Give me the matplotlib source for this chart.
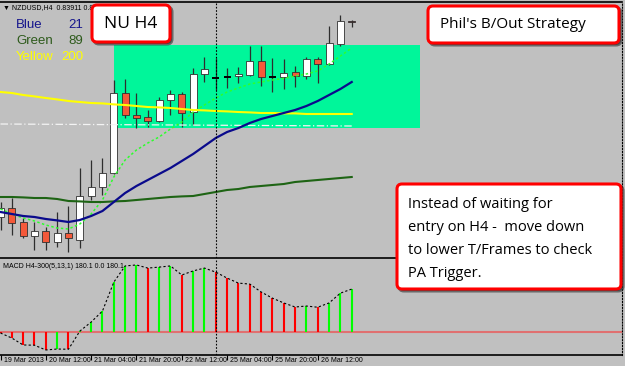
"""
NZDUSD H4 chart with breakout box, moving averages and MACD histogram.
"""

import numpy as np
import matplotlib.pyplot as plt
from matplotlib.patches import Rectangle, FancyBboxPatch
from matplotlib.transforms import ScaledTranslation

# ==============================================================================
# 1. DATA
# ==============================================================================
bar_index = np.arange(32)

opens = [0.8293, 0.82975, 0.82905, 0.82835, 0.8286, 0.82805, 0.8285, 0.82815,
         0.83035, 0.8308, 0.8315, 0.8355, 0.8344, 0.8343, 0.8341, 0.83515,
         0.83545, 0.83455, 0.83645, 0.83625, 0.8363, 0.83635, 0.8364, 0.8371,
         0.8363, 0.8363, 0.83655, 0.83635, 0.8372, 0.83695, 0.83795, 0.83911]
highs = [0.83005, 0.83025, 0.82925, 0.82905, 0.8288, 0.82955, 0.82985, 0.83175,
         0.83215, 0.83225, 0.83615, 0.8362, 0.8355, 0.83465, 0.8353, 0.83565,
         0.83555, 0.83675, 0.8373, 0.83725, 0.83675, 0.8368, 0.83785, 0.83785,
         0.83725, 0.8372, 0.83685, 0.8373, 0.8373, 0.83885, 0.8394, 0.83915]
lows = [0.82865, 0.8284, 0.82825, 0.82765, 0.82765, 0.8278, 0.82755, 0.82775,
        0.83015, 0.8304, 0.83145, 0.83425, 0.83375, 0.8338, 0.83405, 0.8344,
        0.8338, 0.8339, 0.83605, 0.83565, 0.83575, 0.836, 0.83635, 0.83585,
        0.83555, 0.8357, 0.8358, 0.8362, 0.836, 0.8369, 0.83785, 0.8388]
closes = [0.82975, 0.829, 0.82835, 0.8286, 0.82805, 0.8285, 0.82825, 0.83035,
          0.8308, 0.8315, 0.8355, 0.8344, 0.83425, 0.8341, 0.83515, 0.83545,
          0.8345, 0.83645, 0.8367, 0.83625, 0.8363, 0.83645, 0.8371, 0.8363,
          0.8363, 0.8365, 0.83635, 0.8372, 0.83695, 0.838, 0.8391, 0.83905]

ma_blue = [0.82955, 0.82945, 0.82935, 0.8293, 0.8292, 0.82913, 0.82905, 0.82915,
           0.82935, 0.8296, 0.83005, 0.8305, 0.83085, 0.83115, 0.83145, 0.83175,
           0.8321, 0.83245, 0.83285, 0.83325, 0.83355, 0.83375, 0.834, 0.8342,
           0.83435, 0.8345, 0.83465, 0.83485, 0.8351, 0.8354, 0.8357, 0.83605]
ma_green = [0.8303, 0.8303, 0.83028, 0.83025, 0.83025, 0.8302, 0.8301, 0.83008,
            0.83005, 0.83005, 0.83008, 0.8301, 0.83015, 0.8302, 0.83025, 0.8303,
            0.83033, 0.83035, 0.83045, 0.83055, 0.83065, 0.8307, 0.8308, 0.83085,
            0.8309, 0.83095, 0.83105, 0.8311, 0.83115, 0.8312, 0.83125, 0.8313]
ma_yellow = [0.83555, 0.8355, 0.8354, 0.83533, 0.83525, 0.83518, 0.8351, 0.83505,
             0.835, 0.83498, 0.83493, 0.8349, 0.83485, 0.8348, 0.83478, 0.83475,
             0.8347, 0.83465, 0.83463, 0.8346, 0.83458, 0.83455, 0.83453, 0.8345,
             0.8345, 0.83448, 0.83448, 0.83445, 0.83445, 0.83445, 0.83445, 0.83445]
ma_fast = [0.8297, 0.82945, 0.82925, 0.8291, 0.8289, 0.82875, 0.8287, 0.82895,
           0.82945, 0.83015, 0.8313, 0.83215, 0.83265, 0.833, 0.8333, 0.8337,
           0.83405, 0.83455, 0.8349, 0.83525, 0.83555, 0.83575, 0.83595, 0.83605,
           0.83615, 0.83623, 0.83635, 0.83645, 0.8366, 0.83695, 0.83735, 0.83775]
ma_white_index = [0, 31]
ma_white = [0.83395, 0.83385]

macd_values = [-4, -25, -54, -55, -75, -71, -72, 4, 42, 88, 209, 277, 281, 268,
               272, 277, 239, 256, 268, 251, 226, 205, 201, 168, 142, 122, 105,
               109, 104, 122, 163, 180.1]

box_start, box_end = 10, 37
box_low, box_high = 0.83375, 0.8379
separator_index = 19

tick_index = [0, 4, 8, 12, 16, 20, 24, 28]
tick_labels = ['19 Mar 2013', '20 Mar 12:00', '21 Mar 04:00', '21 Mar 20:00',
               '22 Mar 12:00', '25 Mar 04:00', '25 Mar 20:00', '26 Mar 12:00']

legend_names = ['Blue', 'Green', 'Yellow']
legend_periods = ['21', '89', '200']

# ==============================================================================
# 2. STYLE
# ==============================================================================
BG = '#C0C0C0'
BULL = '#FFFFFF'
BEAR = '#F4593A'
LAST = '#8B1A1A'
WICK = '#2E2E2E'
SMALL_FONT = ['Liberation Sans', 'DejaVu Sans']
NOTE_FONT = ['Open Sans', 'DejaVu Sans']

W, H = 625, 366
BAR_PX = 11.33
X0_PX = 0.5


def draw_candles(ax):
    body_w = 0.62
    n = len(opens)
    for i, o, h, l, c in zip(bar_index, opens, highs, lows, closes):
        ax.vlines(i, l, h, color=WICK, lw=0.9, zorder=3)
        if abs(c - o) < 0.00002:
            ax.hlines(o, i - body_w / 2, i + body_w / 2, color='black', lw=1.4, zorder=4)
            continue
        if i == n - 1:
            face = LAST
        else:
            face = BULL if c > o else BEAR
        ax.add_patch(Rectangle((i - body_w / 2, min(o, c)), body_w, abs(c - o),
                               facecolor=face, edgecolor='#303030', lw=0.6, zorder=4))


def main():
    fig = plt.figure(figsize=(W / 100, H / 100), dpi=100, facecolor=BG)

    x_lo = -X0_PX / BAR_PX
    x_hi = (622 - X0_PX) / BAR_PX

    # ---- main price panel
    ax = fig.add_axes([0, (H - 258) / H, 622 / W, 256 / H], facecolor=BG)
    ax.set_xlim(x_lo, x_hi)
    ax.set_ylim(0.82725, 0.84005)

    ax.add_patch(Rectangle((box_start, box_low), box_end - box_start, box_high - box_low,
                           facecolor='#00F69A', edgecolor='none', zorder=1))
    draw_candles(ax)

    ax.plot(ma_white_index, ma_white, color='#F4F4F4', lw=0.9,
            linestyle=(0, (6, 2, 1, 2)), zorder=5)
    ax.plot(bar_index, ma_fast, color='#2CFF2C', lw=1.1, linestyle=(0, (1.6, 1.6)), zorder=5)
    ax.plot(bar_index, ma_green, color='#1E6414', lw=1.5, zorder=5)
    ax.plot(bar_index, ma_yellow, color='#FFFF00', lw=1.5, zorder=5)
    ax.plot(bar_index, ma_blue, color='#0A0A8C', lw=1.6, zorder=6)
    ax.axvline(separator_index, color='black', lw=0.8, linestyle=(0, (1.5, 1.5)), zorder=7)

    ax.set_xticks([])
    ax.set_yticks([])
    ax.spines['left'].set_visible(False)
    ax.spines['right'].set_linestyle(':')
    ax.spines['top'].set_linewidth(1.2)
    ax.spines['bottom'].set_linewidth(1.2)

    # ---- MACD panel
    mx = fig.add_axes([0, (H - 355) / H, 622 / W, 96 / H], facecolor=BG)
    mx.set_xlim(x_lo, x_hi)
    mx.set_ylim(-96, 306)
    mx.axhline(0, color='#E07070', lw=1.5, zorder=1)

    prev = np.r_[macd_values[0] + 1, macd_values[:-1]]
    hist_colors = np.where(np.array(macd_values) > prev, '#00FF00', '#FF0000')
    mx.vlines(bar_index, 0, macd_values, colors=hist_colors, lw=1.5, zorder=2)
    mx.plot(bar_index, macd_values, color='black', lw=0.8, linestyle=(0, (2, 2)), zorder=3)
    mx.axvline(separator_index, color='black', lw=0.8, linestyle=(0, (1.5, 1.5)), zorder=4)

    mx.set_yticks([])
    mx.set_xticks(tick_index)
    mx.set_xticklabels(tick_labels, fontsize=5, family=SMALL_FONT, ha='left')
    mx.tick_params(axis='x', length=3.5, width=0.8, pad=-2.2, colors='black')
    shift = ScaledTranslation(3 / 100, 0, fig.dpi_scale_trans)
    for lab in mx.get_xticklabels():
        lab.set_transform(lab.get_transform() + shift)
    mx.spines['left'].set_visible(False)
    mx.spines['top'].set_visible(False)
    mx.spines['right'].set_linestyle(':')
    mx.spines['bottom'].set_linewidth(1.2)

    # ---- overlay for labels and notes (pixel coordinates)
    ov = fig.add_axes([0, 0, 1, 1], facecolor='none')
    ov.set_xlim(0, W)
    ov.set_ylim(H, 0)
    ov.axis('off')

    ov.text(3, 8, '\u25bc NZDUSD,H4  0.83911 0.83911 0.83880 0.83905', fontsize=5,
            family=SMALL_FONT, va='center', ha='left', zorder=1)
    ov.text(3, 266, 'MACD H4-300(5,13,1) 180.1 0.0 180.1', fontsize=5,
            family=SMALL_FONT, va='center', ha='left')

    legend_colors = ['#14148C', '#2D5A1B', '#FFFF00']
    for k, (name, per, col) in enumerate(zip(legend_names, legend_periods, legend_colors)):
        y = 25 + 16 * k
        ov.text(16, y, name, color=col, fontsize=9.5, family=SMALL_FONT, va='center')
        ov.text(83, y, per, color=col, fontsize=9.5, family=SMALL_FONT, va='center', ha='right')

    def note(x, y, w, h, zorder):
        ov.add_patch(FancyBboxPatch((x + 2, y + 2), w, h,
                                    boxstyle='round,pad=0,rounding_size=5',
                                    facecolor='#303030', edgecolor='#303030', lw=2.2,
                                    alpha=0.6, zorder=zorder))
        ov.add_patch(FancyBboxPatch((x, y), w, h, boxstyle='round,pad=0,rounding_size=5',
                                    facecolor='white', edgecolor='#FF0000', lw=2.2,
                                    zorder=zorder + 1))

    note(92, 5, 78, 37, 5)
    ov.text(131, 24, 'NU H4', fontsize=12.5, family=NOTE_FONT, va='center', ha='center', zorder=8)

    note(428, 6, 191, 37, 5)
    ov.text(440, 25, "Phil's B/Out Strategy", fontsize=11, family=NOTE_FONT,
            va='center', ha='left', zorder=8)

    note(397, 184, 224, 105, 5)
    lines = ['Instead of waiting for', 'entry on H4 -  move down',
             'to lower T/Frames to check', 'PA Trigger.']
    for k, line in enumerate(lines):
        ov.text(408, 204 + 23.3 * k, line, fontsize=10.5, family=NOTE_FONT,
                va='center', ha='left', zorder=8)

    fig.savefig('out.png', dpi=100, facecolor=BG)
    plt.close(fig)


if __name__ == '__main__':
    main()
